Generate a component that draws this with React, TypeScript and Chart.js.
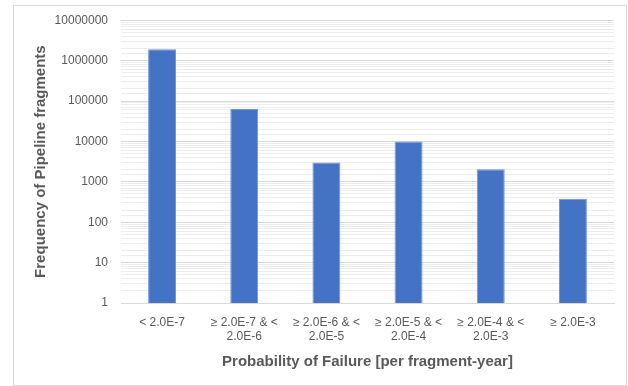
import React, { useEffect, useRef } from "react";
import { Chart, registerables } from "chart.js";

Chart.register(...registerables);

const categories: (string | string[])[] = [
  "< 2.0E-7",
  ["≥ 2.0E-7 & <", "2.0E-6"],
  ["≥ 2.0E-6 & <", "2.0E-5"],
  ["≥ 2.0E-5 & <", "2.0E-4"],
  ["≥ 2.0E-4 & <", "2.0E-3"],
  "≥ 2.0E-3",
];
const frequencies = [1900000, 63000, 3000, 10000, 2050, 380];
const majorTicks = [1, 10, 100, 1000, 10000, 100000, 1000000, 10000000];

const FONT = "'Liberation Sans', Arial, sans-serif";
const TEXT = "#595959";

function isMajor(v: number) {
  return majorTicks.some((m) => Math.abs(m - v) < m * 1e-6);
}

export default function App() {
  const ref = useRef<HTMLCanvasElement | null>(null);
  useEffect(() => {
    if (!ref.current) return;
    const chart = new Chart(ref.current, {
      type: "bar",
      data: {
        labels: categories,
        datasets: [
          {
            data: frequencies,
            backgroundColor: "#4472C4",
            borderColor: "#6f93d6",
            borderWidth: 1,
            categoryPercentage: 1,
            barPercentage: 0.34,
          },
        ],
      },
      options: {
        responsive: false,
        animation: false,
        maintainAspectRatio: false,
        layout: { padding: { left: 32, right: 14, top: 20, bottom: 15 } },
        plugins: { legend: { display: false }, tooltip: { enabled: false } },
        scales: {
          x: {
            grid: { display: false, drawTicks: false },
            border: { display: true, color: "#d9d9d9" },
            ticks: {
              color: TEXT,
              font: { family: FONT, size: 12 },
              padding: 12,
              maxRotation: 0,
              autoSkip: false,
            },
            title: {
              display: true,
              text: "Probability of Failure [per fragment-year]",
              color: TEXT,
              font: { family: FONT, size: 15, weight: "bold" },
              padding: { top: 8, bottom: 0 },
            },
            afterFit: (s: any) => {
              s.height = 68;
            },
          },
          y: {
            type: "logarithmic",
            min: 1,
            max: 10000000,
            border: { display: false },
            grid: {
              drawTicks: false,
              color: (ctx: any) =>
                ctx.tick && isMajor(ctx.tick.value) ? "#d9d9d9" : "#ededed",
              lineWidth: 1,
            },
            ticks: {
              color: TEXT,
              font: { family: FONT, size: 12 },
              padding: 13,
              autoSkip: false,
              callback: (v: any) => (isMajor(Number(v)) ? String(Math.round(Number(v))) : ""),
            },
            title: {
              display: true,
              text: "Frequency of Pipeline fragments",
              color: TEXT,
              font: { family: FONT, size: 15, weight: "bold" },
              padding: { top: 0, bottom: 0 },
            },
            afterFit: (s: any) => {
              s.width = 89;
            },
          },
        },
      },
    });
    return () => chart.destroy();
  }, []);
  return (
    <div style={{ position: "absolute", left: 0, top: 0, width: 628, height: 386, background: "#fff" }}>
      <canvas ref={ref} width={628} height={386} style={{ position: "absolute", left: 0, top: 0 }} />
      <div
        style={{
          position: "absolute",
          left: 13,
          top: 5,
          width: 612,
          height: 379,
          border: "1px solid #d9d9d9",
          pointerEvents: "none",
        }}
      />
    </div>
  );
}
